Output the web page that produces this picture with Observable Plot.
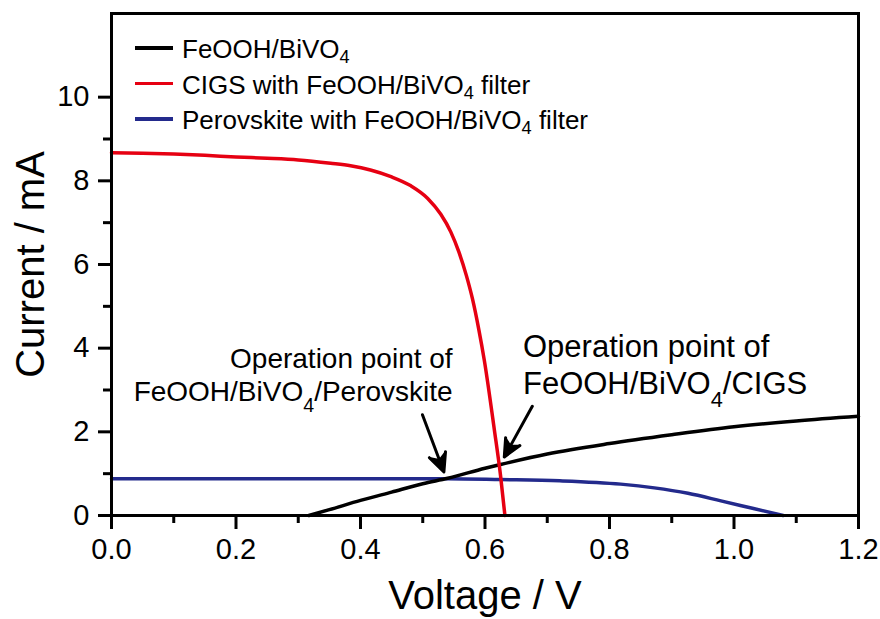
<!DOCTYPE html>
<html>
<head>
<meta charset="utf-8">
<script src="https://cdn.jsdelivr.net/npm/d3@7"></script>
<script src="https://cdn.jsdelivr.net/npm/@observablehq/plot@0.6"></script>
<style>
  body { margin: 0; background: #fff; }
  #wrap { position: relative; width: 880px; height: 619px; font-family: "Liberation Sans", Arial, sans-serif; }
  #legend { position: absolute; left: 135px; top: 32px; font-size: 26px; color: #000; }
  .row { display: flex; align-items: center; height: 35.5px; white-space: nowrap; }
  .sw { width: 38px; height: 3.5px; margin-right: 9px; position: relative; top: -2px; }
  sub { font-size: 70%; vertical-align: -0.25em; line-height: 0; }
</style>
</head>
<body>
<div id="wrap"></div>
<script>
// ---- data ----
const seriesNames = ["FeOOH/BiVO₄", "CIGS with FeOOH/BiVO₄ filter", "Perovskite with FeOOH/BiVO₄ filter"];
const seriesColors = ["#000000", "#e60012", "#232a8c"];

const feoohV = [0.317, 0.35, 0.40, 0.45, 0.50, 0.54, 0.60, 0.625, 0.70, 0.80, 0.90, 1.00, 1.10, 1.20];
const feoohI = [0, 0.14, 0.36, 0.56, 0.76, 0.89, 1.13, 1.22, 1.47, 1.72, 1.93, 2.12, 2.26, 2.37];

const cigsV = [0, 0.05, 0.10, 0.15, 0.20, 0.25, 0.30, 0.352, 0.384, 0.416, 0.449, 0.481, 0.508, 0.529, 0.545, 0.558, 0.570, 0.580, 0.590, 0.599, 0.615, 0.625, 0.632];
const cigsI = [8.67, 8.66, 8.64, 8.61, 8.57, 8.54, 8.50, 8.42, 8.36, 8.26, 8.10, 7.88, 7.58, 7.20, 6.78, 6.30, 5.74, 5.17, 4.45, 3.70, 2.05, 0.95, 0];

const peroV = [0, 0.2, 0.4, 0.54, 0.625, 0.72, 0.818, 0.872, 0.926, 0.979, 1.033, 1.079];
const peroI = [0.88, 0.88, 0.88, 0.88, 0.86, 0.83, 0.75, 0.66, 0.53, 0.35, 0.16, 0];

const xMajor = [0, 0.2, 0.4, 0.6, 0.8, 1.0, 1.2];
const xMinor = [0.1, 0.3, 0.5, 0.7, 0.9, 1.1];
const yMajor = [0, 2, 4, 6, 8, 10];
const yMinor = [1, 3, 5, 7, 9];

const annText = ["Operation point of\nFeOOH/BiVO₄/Perovskite", "Operation point of\nFeOOH/BiVO₄/CIGS"];
const annV = [0.548, 0.661];
const annI = [2.73, 2.90];

const arrowFromV = [0.4995, 0.676];
const arrowFromI = [2.41, 2.61];
const arrowToV = [0.534, 0.631];
const arrowToI = [1.04, 1.40];

const xTitle = "Voltage / V";
const yTitle = "Current / mA";

// ---- build ----
const toRows = (vs, is) => vs.map((v, k) => ({V: v, I: is[k]}));
const curves = [toRows(feoohV, feoohI), toRows(cigsV, cigsI), toRows(peroV, peroI)];
const ann = annText.map((t, k) => ({t, V: annV[k], I: annI[k]}));
const arrows = arrowFromV.map((v, k) => ({x1: v, y1: arrowFromI[k], x2: arrowToV[k], y2: arrowToI[k]}));

const font = '"Liberation Sans", Arial, sans-serif';

const chart = Plot.plot({
  width: 880,
  height: 619,
  marginLeft: 111,
  marginRight: 22,
  marginTop: 13,
  marginBottom: 104,
  style: {fontFamily: font, background: "#fff", color: "#000", overflow: "visible"},
  x: {domain: [0, 1.2], label: null},
  y: {domain: [0, 12], label: null},
  marks: [
    Plot.axisX(xMinor, {tickSize: 8, tickFormat: () => "", strokeWidth: 3}),
    Plot.axisY(yMinor, {tickSize: 8, tickFormat: () => "", strokeWidth: 3}),
    Plot.axisX(xMajor, {tickSize: 14, tickPadding: 9, tickFormat: d3.format(".1f"), fontSize: 29, strokeWidth: 3}),
    Plot.axisY(yMajor, {tickSize: 13, tickPadding: 9, tickFormat: d3.format("d"), fontSize: 29, strokeWidth: 3}),
    Plot.line(curves[2], {x: "V", y: "I", stroke: seriesColors[2], strokeWidth: 3.5, curve: "monotone-x"}),
    Plot.line(curves[0], {x: "V", y: "I", stroke: seriesColors[0], strokeWidth: 3.5, curve: "monotone-x"}),
    Plot.line(curves[1], {x: "V", y: "I", stroke: seriesColors[1], strokeWidth: 3.5, curve: "monotone-x"}),
    Plot.arrow(arrows, {x1: "x1", y1: "y1", x2: "x2", y2: "y2", stroke: "#000", strokeWidth: 3, headLength: 18, headAngle: 50}),
    Plot.text([ann[0]], {x: "V", y: "I", text: "t", textAnchor: "end", lineAnchor: "bottom", fontSize: 28, lineHeight: 1.2, fill: "#000"}),
    Plot.text([ann[1]], {x: "V", y: "I", text: "t", textAnchor: "start", lineAnchor: "bottom", fontSize: 31, lineHeight: 1.19, fill: "#000"}),
    Plot.text([xTitle], {frameAnchor: "bottom", textAnchor: "middle", lineAnchor: "bottom", dy: 93, fontSize: 40, fill: "#000"}),
    Plot.text([yTitle], {frameAnchor: "left", textAnchor: "middle", lineAnchor: "bottom", rotate: -90, dx: -68, fontSize: 40, fill: "#000"}),
    Plot.frame({stroke: "#000", strokeWidth: 3})
  ]
});

const NS = "http://www.w3.org/2000/svg";

// render "₄" as a real subscript inside SVG text
chart.querySelectorAll("text, tspan").forEach(el => {
  if (el.children.length === 0 && el.textContent.includes("₄")) {
    const parts = el.textContent.split("₄");
    el.textContent = "";
    parts.forEach((p, k) => {
      if (k > 0) {
        const s = document.createElementNS(NS, "tspan");
        s.setAttribute("baseline-shift", "sub");
        s.setAttribute("font-size", "70%");
        s.textContent = "4";
        el.appendChild(s);
      }
      if (p) el.appendChild(document.createTextNode(p));
    });
  }
});

// fill the arrow heads (stealth style) using the geometry Plot computed
chart.querySelectorAll('g[aria-label="arrow"] path').forEach(path => {
  const n = (path.getAttribute("d").match(/-?\d*\.?\d+(e-?\d+)?/g) || []).map(Number);
  if (n.length < 10) return;
  const [sx, sy] = n;
  const k = n.length;
  const h1 = [n[k - 6], n[k - 5]], tip = [n[k - 4], n[k - 3]], h2 = [n[k - 2], n[k - 1]];
  const dx = tip[0] - sx, dy = tip[1] - sy, L = Math.hypot(dx, dy);
  const notch = [tip[0] - dx / L * 13, tip[1] - dy / L * 13];
  const head = document.createElementNS(NS, "path");
  head.setAttribute("d", `M${h1}L${tip}L${h2}L${notch}Z`);
  head.setAttribute("fill", "#000");
  head.setAttribute("stroke", "#000");
  head.setAttribute("stroke-width", "1.5");
  head.setAttribute("stroke-linejoin", "miter");
  path.parentNode.appendChild(head);
});

const wrap = document.getElementById("wrap");
wrap.appendChild(chart);

// legend (inside the plot area, top-left)
const legend = document.createElement("div");
legend.id = "legend";
seriesNames.forEach((name, k) => {
  const row = document.createElement("div");
  row.className = "row";
  const sw = document.createElement("span");
  sw.className = "sw";
  sw.style.background = seriesColors[k];
  const label = document.createElement("span");
  label.innerHTML = name.replace("₄", "<sub>4</sub>");
  row.appendChild(sw);
  row.appendChild(label);
  legend.appendChild(row);
});
wrap.appendChild(legend);
</script>
</body>
</html>
